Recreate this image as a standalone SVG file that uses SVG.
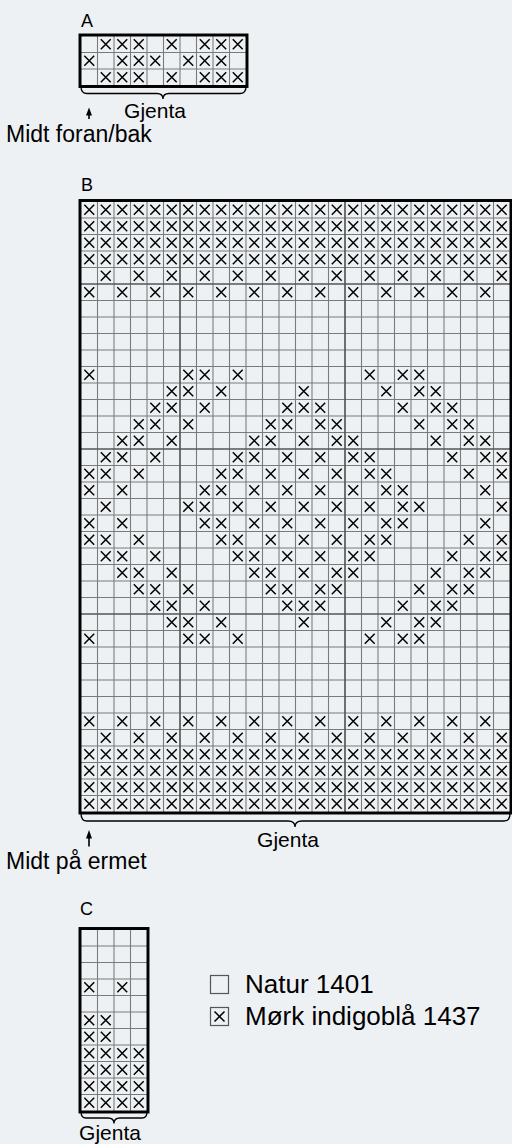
<svg xmlns="http://www.w3.org/2000/svg" xmlns:xlink="http://www.w3.org/1999/xlink" width="512" height="1144" viewBox="0 0 512 1144">
<style>
text{font-family:"Liberation Sans",Arial,Helvetica,sans-serif;fill:#000}
.lbl{font-size:18px}
.txt{font-size:21px}
.mid{font-size:23px}
.leg{font-size:26px}
.grid{fill:none;stroke:#7a7a7a;stroke-width:.065}
.major{fill:none;stroke:#555;stroke-width:.1}
.frame{fill:none;stroke:#000;stroke-width:.18}
.brace{fill:none;stroke:#000;stroke-width:1.3}
.shaft{stroke:#000;stroke-width:1.6}
</style>
<defs>
<path id="x" d="M.2 .2L.8 .8M.8 .2L.2 .8" fill="none" stroke="#000" stroke-width=".09"/>
<g id="rA"><use href="#x" x="0"/><use href="#x" x="1"/><use href="#x" x="2"/><use href="#x" x="3"/><use href="#x" x="4"/><use href="#x" x="5"/><use href="#x" x="6"/><use href="#x" x="7"/><use href="#x" x="8"/><use href="#x" x="9"/><use href="#x" x="10"/><use href="#x" x="11"/><use href="#x" x="12"/><use href="#x" x="13"/><use href="#x" x="14"/><use href="#x" x="15"/><use href="#x" x="16"/><use href="#x" x="17"/><use href="#x" x="18"/><use href="#x" x="19"/><use href="#x" x="20"/><use href="#x" x="21"/><use href="#x" x="22"/><use href="#x" x="23"/><use href="#x" x="24"/><use href="#x" x="25"/></g>
<g id="rO"><use href="#x" x="1"/><use href="#x" x="3"/><use href="#x" x="5"/><use href="#x" x="7"/><use href="#x" x="9"/><use href="#x" x="11"/><use href="#x" x="13"/><use href="#x" x="15"/><use href="#x" x="17"/><use href="#x" x="19"/><use href="#x" x="21"/><use href="#x" x="23"/><use href="#x" x="25"/></g>
<g id="rE"><use href="#x" x="0"/><use href="#x" x="2"/><use href="#x" x="4"/><use href="#x" x="6"/><use href="#x" x="8"/><use href="#x" x="10"/><use href="#x" x="12"/><use href="#x" x="14"/><use href="#x" x="16"/><use href="#x" x="18"/><use href="#x" x="20"/><use href="#x" x="22"/><use href="#x" x="24"/></g>
<g id="d10"><use href="#x" x="0"/><use href="#x" x="6"/><use href="#x" x="7"/><use href="#x" x="9"/><use href="#x" x="17"/><use href="#x" x="19"/><use href="#x" x="20"/></g>
<g id="d11"><use href="#x" x="5"/><use href="#x" x="6"/><use href="#x" x="8"/><use href="#x" x="13"/><use href="#x" x="18"/><use href="#x" x="20"/><use href="#x" x="21"/></g>
<g id="d12"><use href="#x" x="4"/><use href="#x" x="5"/><use href="#x" x="7"/><use href="#x" x="12"/><use href="#x" x="13"/><use href="#x" x="14"/><use href="#x" x="19"/><use href="#x" x="21"/><use href="#x" x="22"/></g>
<g id="d13"><use href="#x" x="3"/><use href="#x" x="4"/><use href="#x" x="6"/><use href="#x" x="11"/><use href="#x" x="12"/><use href="#x" x="14"/><use href="#x" x="15"/><use href="#x" x="20"/><use href="#x" x="22"/><use href="#x" x="23"/></g>
<g id="d14"><use href="#x" x="2"/><use href="#x" x="3"/><use href="#x" x="5"/><use href="#x" x="10"/><use href="#x" x="11"/><use href="#x" x="13"/><use href="#x" x="15"/><use href="#x" x="16"/><use href="#x" x="21"/><use href="#x" x="23"/><use href="#x" x="24"/></g>
<g id="d15"><use href="#x" x="1"/><use href="#x" x="2"/><use href="#x" x="4"/><use href="#x" x="9"/><use href="#x" x="10"/><use href="#x" x="12"/><use href="#x" x="14"/><use href="#x" x="16"/><use href="#x" x="17"/><use href="#x" x="22"/><use href="#x" x="24"/><use href="#x" x="25"/></g>
<g id="d16"><use href="#x" x="0"/><use href="#x" x="1"/><use href="#x" x="3"/><use href="#x" x="8"/><use href="#x" x="9"/><use href="#x" x="11"/><use href="#x" x="13"/><use href="#x" x="15"/><use href="#x" x="17"/><use href="#x" x="18"/><use href="#x" x="23"/><use href="#x" x="25"/></g>
<g id="d17"><use href="#x" x="0"/><use href="#x" x="2"/><use href="#x" x="7"/><use href="#x" x="8"/><use href="#x" x="10"/><use href="#x" x="12"/><use href="#x" x="14"/><use href="#x" x="16"/><use href="#x" x="18"/><use href="#x" x="19"/><use href="#x" x="24"/></g>
<g id="d18"><use href="#x" x="1"/><use href="#x" x="6"/><use href="#x" x="7"/><use href="#x" x="9"/><use href="#x" x="11"/><use href="#x" x="13"/><use href="#x" x="15"/><use href="#x" x="17"/><use href="#x" x="19"/><use href="#x" x="20"/><use href="#x" x="25"/></g>
</defs>
<rect width="512" height="1144" fill="#eef1f4"/>

<g id="chartA">
<text class="lbl" x="81" y="27">A</text>
<g transform="translate(81 36) scale(16.5)">
<path class="grid" d="M1 0V3M2 0V3M3 0V3M4 0V3M5 0V3M6 0V3M7 0V3M8 0V3M9 0V3M0 1H10M0 2H10"/>
<use href="#x" x="1" y="0"/><use href="#x" x="2" y="0"/><use href="#x" x="3" y="0"/><use href="#x" x="5" y="0"/><use href="#x" x="7" y="0"/><use href="#x" x="8" y="0"/><use href="#x" x="9" y="0"/>
<use href="#x" x="0" y="1"/><use href="#x" x="2" y="1"/><use href="#x" x="3" y="1"/><use href="#x" x="4" y="1"/><use href="#x" x="6" y="1"/><use href="#x" x="7" y="1"/><use href="#x" x="8" y="1"/>
<use href="#x" x="1" y="2"/><use href="#x" x="2" y="2"/><use href="#x" x="3" y="2"/><use href="#x" x="5" y="2"/><use href="#x" x="7" y="2"/><use href="#x" x="8" y="2"/><use href="#x" x="9" y="2"/>
<rect class="frame" x="-.06" y="-.06" width="10.12" height="3.12"/>
</g>
</g>

<g id="chartB">
<text class="lbl" x="81" y="191">B</text>
<g transform="translate(81 201.5) scale(16.5)">
<path class="grid" d="M1 0V37M2 0V37M3 0V37M4 0V37M5 0V37M7 0V37M8 0V37M9 0V37M10 0V37M11 0V37M12 0V37M13 0V37M14 0V37M15 0V37M17 0V37M18 0V37M19 0V37M20 0V37M21 0V37M22 0V37M23 0V37M24 0V37M25 0V37M0 1H26M0 2H26M0 3H26M0 4H26M0 6H26M0 7H26M0 8H26M0 9H26M0 10H26M0 11H26M0 12H26M0 13H26M0 14H26M0 16H26M0 17H26M0 18H26M0 19H26M0 20H26M0 21H26M0 22H26M0 23H26M0 24H26M0 26H26M0 27H26M0 28H26M0 29H26M0 30H26M0 31H26M0 32H26M0 33H26M0 34H26M0 35H26M0 36H26"/>
<path class="major" d="M6 0V37M16 0V37M0 5H26M0 15H26M0 25H26"/>
<use href="#rA" y="0"/><use href="#rA" y="1"/><use href="#rA" y="2"/><use href="#rA" y="3"/>
<use href="#rO" y="4"/><use href="#rE" y="5"/>
<use href="#d10" y="10"/><use href="#d11" y="11"/><use href="#d12" y="12"/><use href="#d13" y="13"/><use href="#d14" y="14"/><use href="#d15" y="15"/><use href="#d16" y="16"/><use href="#d17" y="17"/><use href="#d18" y="18"/>
<use href="#d17" y="19"/><use href="#d16" y="20"/><use href="#d15" y="21"/><use href="#d14" y="22"/><use href="#d13" y="23"/><use href="#d12" y="24"/><use href="#d11" y="25"/><use href="#d10" y="26"/>
<use href="#rE" y="31"/><use href="#rO" y="32"/>
<use href="#rA" y="33"/><use href="#rA" y="34"/><use href="#rA" y="35"/><use href="#rA" y="36"/>
<rect class="frame" x="-.06" y="-.06" width="26.12" height="37.12"/>
</g>
</g>

<g id="chartC">
<text class="lbl" x="80" y="915">C</text>
<g transform="translate(81 929.5) scale(16.5)">
<path class="grid" d="M1 0V11M2 0V11M3 0V11M0 1H4M0 2H4M0 3H4M0 4H4M0 5H4M0 6H4M0 7H4M0 8H4M0 9H4M0 10H4"/>
<use href="#x" x="0" y="3"/><use href="#x" x="2" y="3"/>
<use href="#x" x="0" y="5"/><use href="#x" x="1" y="5"/>
<use href="#x" x="0" y="6"/><use href="#x" x="1" y="6"/>
<use href="#x" x="0" y="7"/><use href="#x" x="1" y="7"/><use href="#x" x="2" y="7"/><use href="#x" x="3" y="7"/>
<use href="#x" x="0" y="8"/><use href="#x" x="1" y="8"/><use href="#x" x="2" y="8"/><use href="#x" x="3" y="8"/>
<use href="#x" x="0" y="9"/><use href="#x" x="1" y="9"/><use href="#x" x="2" y="9"/><use href="#x" x="3" y="9"/>
<use href="#x" x="0" y="10"/><use href="#x" x="1" y="10"/><use href="#x" x="2" y="10"/><use href="#x" x="3" y="10"/>
<rect class="frame" x="-.06" y="-.06" width="4.12" height="11.12"/>
</g>
</g>

<g id="annotations">
<path class="brace" d="M81 86.5Q81 93.5 87 93.5H157Q163 93.5 163 99Q163 93.5 169 93.5H240Q246 93.5 246 86.5"/>
<text class="txt" x="155" y="117.5" text-anchor="middle">Gjenta</text>
<polygon points="89,107.5 86,115.5 92,115.5"/>
<line class="shaft" x1="89" y1="113" x2="89" y2="119"/>
<text class="mid" x="6" y="141.5">Midt foran/bak</text>

<path class="brace" d="M81 813.5Q81 821 87 821H288Q295 821 295 827Q295 821 302 821H504Q510 821 510 813.5"/>
<text class="txt" x="288" y="846.5" text-anchor="middle">Gjenta</text>
<polygon points="89,830 86,838.5 92,838.5"/>
<line class="shaft" x1="89" y1="836" x2="89" y2="846.5"/>
<text class="mid" x="6" y="869">Midt på ermet</text>

<path class="brace" d="M81 1111.5Q81 1118 86 1118H108Q114 1118 114 1123.5Q114 1118 120 1118H142Q147 1118 147 1111.5"/>
<text class="txt" x="110" y="1140" text-anchor="middle">Gjenta</text>
</g>

<g id="legend">
<g id="legend-natur">
<rect x="210.5" y="975.5" width="18" height="18" fill="none" stroke="#555" stroke-width="1.2"/>
<text class="leg" x="245" y="992.5">Natur 1401</text>
</g>
<g id="legend-indigo">
<rect x="210.5" y="1007.5" width="18" height="18" fill="none" stroke="#555" stroke-width="1.2"/>
<path d="M214.5 1011.5L224.5 1021.5M224.5 1011.5L214.5 1021.5" stroke="#000" stroke-width="1.5"/>
<text class="leg" x="245" y="1024.5">Mørk indigoblå 1437</text>
</g>
</g>
</svg>
